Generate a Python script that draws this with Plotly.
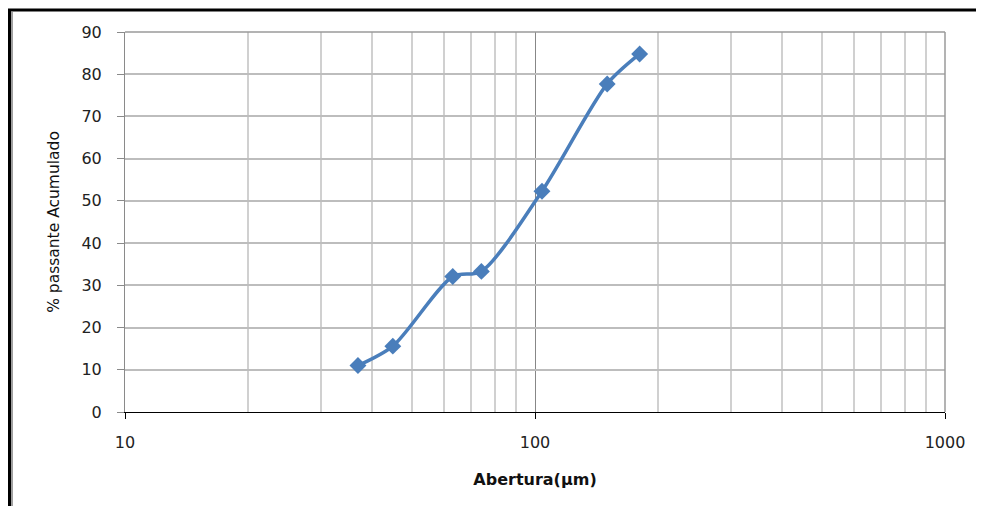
import plotly.graph_objects as go

# Data
abertura_um = [37, 45, 63, 74, 104, 150, 180]
passante_acumulado = [11.0, 15.6, 32.1, 33.3, 52.3, 77.7, 84.8]

y_ticks = [0, 10, 20, 30, 40, 50, 60, 70, 80, 90]
x_major_ticks = [10, 100, 1000]
x_major_labels = ["10", "100", "1000"]
x_minor_ticks = [20, 30, 40, 50, 60, 70, 80, 90, 200, 300, 400, 500, 600, 700, 800, 900]

LINE_COLOR = "#4A7EBB"
FONT = "DejaVu Sans"

# The page body has an 8px margin, so the figure is placed at (8, 8)
OFF = 8
W, H = 984 - OFF, 506 - OFF
L, R, T, B = 125 - OFF, 984 - 945, 32 - OFF, 506 - 412

fig = go.Figure()
fig.add_trace(go.Scatter(
    x=abertura_um,
    y=passante_acumulado,
    mode="lines+markers",
    line=dict(color=LINE_COLOR, width=3.5, shape="spline", smoothing=0.8),
    marker=dict(symbol="diamond", size=13, color=LINE_COLOR),
    showlegend=False,
))

fig.update_layout(
    width=W,
    height=H,
    margin=dict(l=L, r=R, t=T, b=B),
    paper_bgcolor="white",
    plot_bgcolor="white",
    font=dict(family=FONT, color="#222222", size=16),
    xaxis=dict(
        type="log",
        range=[1, 3],
        tickvals=x_major_ticks,
        ticktext=x_major_labels,
        showgrid=True,
        gridcolor="#878787",
        gridwidth=1,
        showline=True,
        linecolor="#000000",
        linewidth=1.2,
        ticks="outside",
        ticklen=6,
        tickcolor="#000000",
        ticklabelstandoff=10,
        tickfont=dict(family=FONT, size=16, color="#222222"),
        minor=dict(tickvals=x_minor_ticks, showgrid=True, gridcolor="#d0d0d0", gridwidth=1.5, ticks=""),
        mirror=False,
        zeroline=False,
        title=dict(text="<b>Abertura(µm)</b>", font=dict(family=FONT, size=16, color="#111111"), standoff=22),
    ),
    yaxis=dict(
        range=[0, 90],
        tickvals=y_ticks,
        showgrid=True,
        gridcolor="#bdbdbd",
        gridwidth=1.5,
        showline=True,
        linecolor="#8a8a8a",
        linewidth=1,
        ticks="outside",
        ticklen=7,
        tickcolor="#8a8a8a",
        ticklabelstandoff=12,
        tickfont=dict(family=FONT, size=16, color="#222222"),
        zeroline=False,
        title=dict(text="% passante Acumulado", font=dict(family=FONT, size=15.5, color="#111111"), standoff=18),
    ),
)

# top and right plot border (gray)
fig.add_shape(type="line", xref="paper", yref="paper", x0=0, x1=1, y0=1, y1=1,
              line=dict(color="#9a9a9a", width=1.5))
fig.add_shape(type="line", xref="paper", yref="paper", x0=1, x1=1, y0=0, y1=1,
              line=dict(color="#9a9a9a", width=1.5))

# outer chart frame (left and top black, with a gray shadow); page pixel -> paper
plot_w, plot_h = W - L - R, H - T - B
def px_x(px):
    return (px - 125) / plot_w
def px_y(py):
    return (412 - py) / plot_h

fig.add_shape(type="line", xref="paper", yref="paper", x0=px_x(12), x1=px_x(12), y0=px_y(12), y1=px_y(506),
              line=dict(color="#a0a0a0", width=2))
fig.add_shape(type="line", xref="paper", yref="paper", x0=px_x(9.5), x1=px_x(9.5), y0=px_y(9), y1=px_y(506),
              line=dict(color="#000000", width=3))
fig.add_shape(type="line", xref="paper", yref="paper", x0=px_x(8), x1=px_x(984), y0=px_y(10), y1=px_y(10),
              line=dict(color="#000000", width=3))

fig.write_html("out.html")
